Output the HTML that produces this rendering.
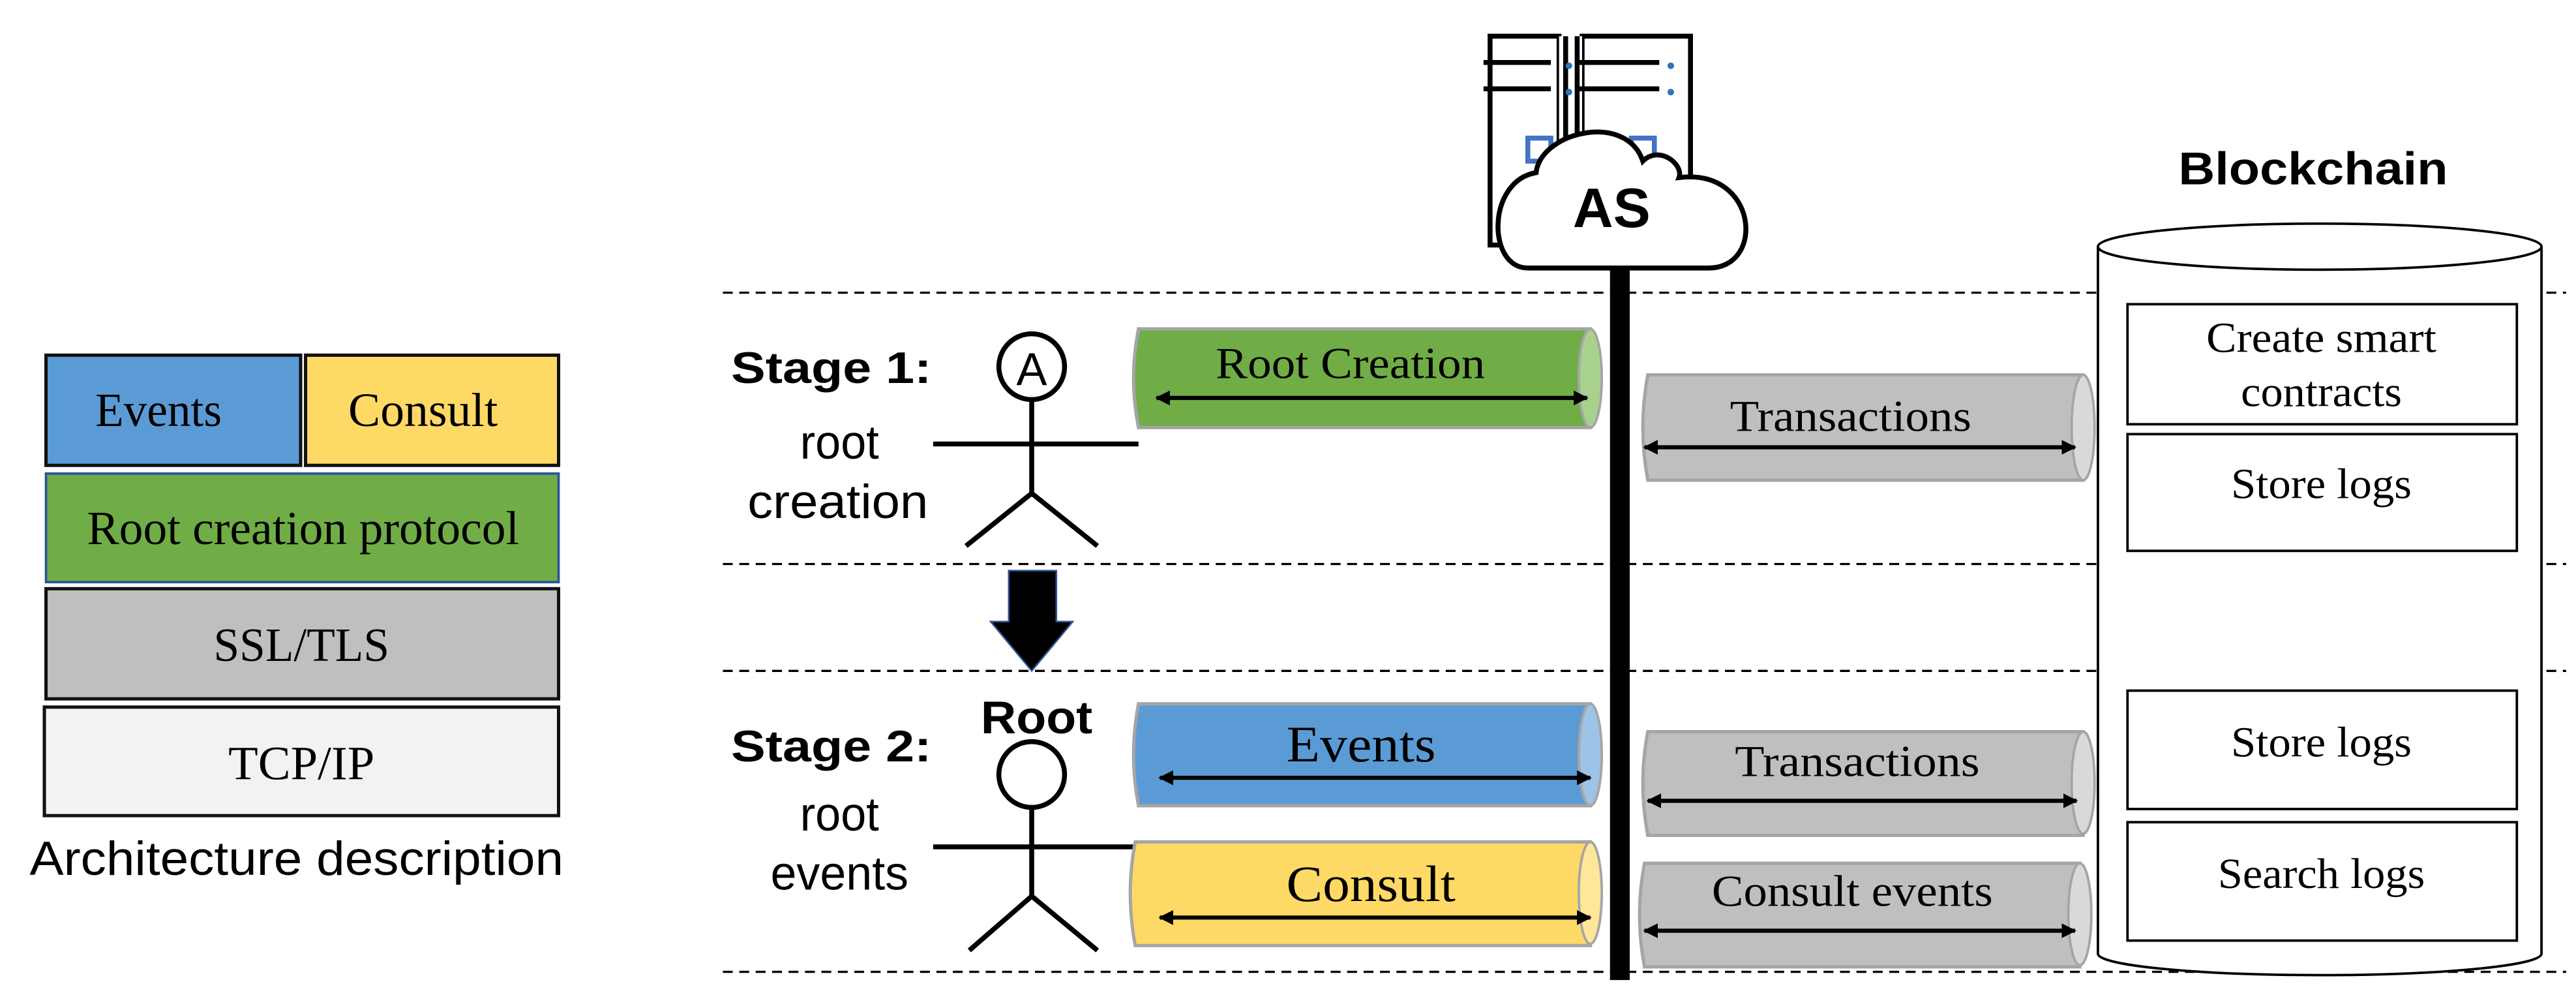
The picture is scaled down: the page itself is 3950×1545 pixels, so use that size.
<!DOCTYPE html>
<html><head><meta charset="utf-8"><style>
html,body{margin:0;padding:0;background:#fff;}
svg{display:block;}
.s{font-family:"Liberation Serif",serif;}
.a{font-family:"Liberation Sans",sans-serif;}
</style></head><body>
<svg width="3950" height="1545" viewBox="0 0 1568 613" preserveAspectRatio="none" xmlns="http://www.w3.org/2000/svg">
<defs>
<marker id="ah" viewBox="0 0 10 10" refX="9" refY="5" markerWidth="9" markerHeight="12" orient="auto-start-reverse" markerUnits="userSpaceOnUse"><path d="M0,0 L10,5 L0,10 z" fill="#000"/></marker>
</defs>
<rect x="28" y="216" width="155" height="67" fill="#5b9bd5" stroke="#111" stroke-width="2"/>
<rect x="186" y="216" width="154" height="67" fill="#ffd966" stroke="#111" stroke-width="2"/>
<rect x="28" y="288" width="312" height="66" fill="#70ad47" stroke="#2f5597" stroke-width="1.5"/>
<rect x="28" y="358" width="312" height="67" fill="#bfbfbf" stroke="#111" stroke-width="2"/>
<rect x="27" y="430" width="313" height="66" fill="#f2f2f2" stroke="#111" stroke-width="2"/>
<g class="s" font-size="29" fill="#000">
<text x="58" y="259" textLength="77" lengthAdjust="spacingAndGlyphs">Events</text>
<text x="212" y="259" textLength="91" lengthAdjust="spacingAndGlyphs">Consult</text>
<text x="53" y="331" textLength="263" lengthAdjust="spacingAndGlyphs">Root creation protocol</text>
<text x="130" y="402" textLength="107" lengthAdjust="spacingAndGlyphs">SSL/TLS</text>
<text x="139" y="474" textLength="89" lengthAdjust="spacingAndGlyphs">TCP/IP</text>
</g>
<text class="a" x="18" y="532" font-size="29" textLength="325" lengthAdjust="spacingAndGlyphs">Architecture description</text>

<g stroke="#000" stroke-width="1.3" stroke-dasharray="6,4">
<line x1="440" y1="178" x2="1562" y2="178"/>
<line x1="440" y1="343" x2="1562" y2="343"/>
<line x1="440" y1="408" x2="1562" y2="408"/>
<line x1="440" y1="591" x2="1562" y2="591"/>
</g>

<g class="a" fill="#000">
<text x="445" y="233" font-size="27" font-weight="bold" textLength="122" lengthAdjust="spacingAndGlyphs">Stage 1:</text>
<text x="487" y="279" font-size="29" textLength="48" lengthAdjust="spacingAndGlyphs">root</text>
<text x="455" y="315" font-size="29" textLength="110" lengthAdjust="spacingAndGlyphs">creation</text>
<text x="445" y="463" font-size="27" font-weight="bold" textLength="122" lengthAdjust="spacingAndGlyphs">Stage 2:</text>
<text x="487" y="505" font-size="29" textLength="48" lengthAdjust="spacingAndGlyphs">root</text>
<text x="469" y="541" font-size="29" textLength="84" lengthAdjust="spacingAndGlyphs">events</text>
<text x="597" y="446" font-size="28" font-weight="bold" textLength="68" lengthAdjust="spacingAndGlyphs">Root</text>
</g>

<g stroke="#000" stroke-width="3" fill="none">
<circle cx="628" cy="223" r="20" fill="#fff"/>
<line x1="628" y1="243" x2="628" y2="300"/>
<line x1="568" y1="270" x2="693" y2="270"/>
<polyline points="588,332 628,300 668,332"/>
<circle cx="628" cy="471" r="20" fill="#fff"/>
<line x1="628" y1="491" x2="628" y2="545"/>
<line x1="568" y1="515" x2="693" y2="515"/>
<polyline points="590,578 628,545 668,578"/>
</g>
<text class="a" x="628" y="234" font-size="28" text-anchor="middle">A</text>

<path d="M614,347 L643,347 L643,378 L653,378 L628,408 L603,378 L614,378 Z" fill="#000" stroke="#2f5597" stroke-width="1"/>

<rect x="980" y="160" width="12" height="436" fill="#000"/>

<g stroke="#000" stroke-width="3" fill="#fff">
<rect x="907" y="22" width="42" height="127"/>
<rect x="963" y="22" width="66" height="127"/>
</g>
<rect x="949" y="22" width="14" height="127" fill="#fff"/>
<line x1="953" y1="22" x2="953" y2="149" stroke="#000" stroke-width="3"/>
<line x1="960" y1="22" x2="960" y2="149" stroke="#000" stroke-width="3"/>
<g stroke="#000" stroke-width="3">
<line x1="903" y1="38" x2="944" y2="38"/><line x1="903" y1="54" x2="944" y2="54"/>
<line x1="960" y1="38" x2="1010" y2="38"/><line x1="960" y1="54" x2="1010" y2="54"/>
</g>
<g fill="#2e75b6"><circle cx="955" cy="40" r="2"/><circle cx="955" cy="56" r="2"/><circle cx="1017" cy="40" r="2"/><circle cx="1017" cy="56" r="2"/></g>
<rect x="930" y="84" width="14" height="14" fill="none" stroke="#4472c4" stroke-width="3"/>
<rect x="993" y="84" width="14" height="14" fill="none" stroke="#4472c4" stroke-width="3"/>
<path d="M930,163 C905,163 905,110 935,105 C938,80 990,68 1000,98 C1010,88 1025,100 1022,108 C1070,102 1075,163 1040,163 Z" fill="#fff" stroke="#000" stroke-width="3"/>
<text class="a" x="981" y="138" font-size="34" font-weight="bold" text-anchor="middle">AS</text>

<g>
<path d="M693,200 L968,200 L968,260 L693,260 Q687,230 693,200 Z" fill="#70ad47" stroke="#a5a5a5" stroke-width="2"/>
<ellipse cx="968" cy="230" rx="7" ry="30" fill="#a9d18e" stroke="#a5a5a5" stroke-width="1.5"/>
<path d="M1003,228 L1268,228 L1268,292 L1003,292 Q997,260 1003,228 Z" fill="#bfbfbf" stroke="#a5a5a5" stroke-width="2"/>
<ellipse cx="1268" cy="260" rx="7" ry="32" fill="#d9d9d9" stroke="#a5a5a5" stroke-width="1.5"/>
<path d="M693,428 L968,428 L968,490 L693,490 Q687,459 693,428 Z" fill="#5b9bd5" stroke="#a5a5a5" stroke-width="2"/>
<ellipse cx="968" cy="459" rx="7" ry="31" fill="#9dc3e6" stroke="#a5a5a5" stroke-width="1.5"/>
<path d="M691,512 L968,512 L968,575 L691,575 Q685,543 691,512 Z" fill="#ffd966" stroke="#a5a5a5" stroke-width="2"/>
<ellipse cx="968" cy="543" rx="7" ry="31" fill="#ffe699" stroke="#a5a5a5" stroke-width="1.5"/>
<path d="M1003,445 L1268,445 L1268,508 L1003,508 Q997,476 1003,445 Z" fill="#bfbfbf" stroke="#a5a5a5" stroke-width="2"/>
<ellipse cx="1268" cy="476" rx="7" ry="31" fill="#d9d9d9" stroke="#a5a5a5" stroke-width="1.5"/>
<path d="M1001,525 L1266,525 L1266,588 L1001,588 Q995,556 1001,525 Z" fill="#bfbfbf" stroke="#a5a5a5" stroke-width="2"/>
<ellipse cx="1266" cy="556" rx="7" ry="31" fill="#d9d9d9" stroke="#a5a5a5" stroke-width="1.5"/>
</g>
<g stroke="#000" stroke-width="2.5" marker-start="url(#ah)" marker-end="url(#ah)">
<line x1="704" y1="242" x2="966" y2="242"/>
<line x1="1001" y1="272" x2="1263" y2="272"/>
<line x1="706" y1="473" x2="968" y2="473"/>
<line x1="706" y1="558" x2="968" y2="558"/>
<line x1="1003" y1="487" x2="1264" y2="487"/>
<line x1="1001" y1="566" x2="1263" y2="566"/>
</g>
<g class="s" fill="#000">
<text x="740" y="230" font-size="27" textLength="164" lengthAdjust="spacingAndGlyphs">Root Creation</text>
<text x="1053" y="262" font-size="27" textLength="147" lengthAdjust="spacingAndGlyphs">Transactions</text>
<text x="783" y="463" font-size="31" textLength="91" lengthAdjust="spacingAndGlyphs">Events</text>
<text x="783" y="548" font-size="31" textLength="103" lengthAdjust="spacingAndGlyphs">Consult</text>
<text x="1056" y="472" font-size="27" textLength="149" lengthAdjust="spacingAndGlyphs">Transactions</text>
<text x="1042" y="551" font-size="27" textLength="171" lengthAdjust="spacingAndGlyphs">Consult events</text>
</g>

<text class="a" x="1326" y="112" font-size="28" font-weight="bold" textLength="164" lengthAdjust="spacingAndGlyphs">Blockchain</text>
<path d="M1277,150 L1277,580 A135,13 0 0 0 1547,580 L1547,150" fill="#fff" stroke="#000" stroke-width="1.5"/>
<ellipse cx="1412" cy="150" rx="135" ry="14" fill="#fff" stroke="#000" stroke-width="1.5"/>
<g fill="#fff" stroke="#000" stroke-width="1.5">
<rect x="1295" y="185" width="237" height="73"/>
<rect x="1295" y="264" width="237" height="71"/>
<rect x="1295" y="420" width="237" height="72"/>
<rect x="1295" y="500" width="237" height="72"/>
</g>
<g class="s" font-size="26" fill="#000" text-anchor="middle">
<text x="1413" y="214" textLength="140" lengthAdjust="spacingAndGlyphs">Create smart</text>
<text x="1413" y="247" textLength="98" lengthAdjust="spacingAndGlyphs">contracts</text>
<text x="1413" y="303" textLength="110" lengthAdjust="spacingAndGlyphs">Store logs</text>
<text x="1413" y="460" textLength="110" lengthAdjust="spacingAndGlyphs">Store logs</text>
<text x="1413" y="540" textLength="126" lengthAdjust="spacingAndGlyphs">Search logs</text>
</g>
</svg>
</body></html>
